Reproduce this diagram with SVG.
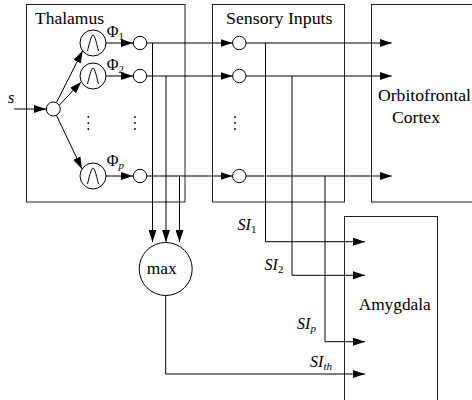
<svg xmlns="http://www.w3.org/2000/svg" width="472" height="400" viewBox="0 0 472 400">
<defs>
<style>
.box{fill:none;stroke:#222;stroke-width:1}
.nd{fill:#fff;stroke:#000;stroke-width:1}
.ar{fill:none;stroke:#000;stroke-width:1;marker-end:url(#ah)}
text{font-family:'Liberation Serif','DejaVu Serif','Times New Roman',serif;font-size:16px;fill:#000}
.i{font-style:italic}
.sub{font-size:11px}
.dot{fill:#000}
</style>
<marker id="ah" markerWidth="12" markerHeight="8" refX="12" refY="4" orient="auto" markerUnits="userSpaceOnUse">
<path d="M0,0 L12,4 L0,8 z" fill="#000"/>
</marker>
<path id="bell" d="M-5.5,8 C-4,2 -1.8,-8 0,-8 C1.8,-8 4,2 5.5,8" fill="none" stroke="#000" stroke-width="1"/>
</defs>
<rect width="472" height="400" fill="#fff"/>

<g id="thalamus">
<rect class="box" x="26.5" y="4.5" width="158.5" height="197.5"/>
<text x="35" y="24" textLength="69" lengthAdjust="spacingAndGlyphs">Thalamus</text>
</g>
<g id="sensory-inputs">
<rect class="box" x="212.5" y="4.5" width="132" height="197.5"/>
<text x="226" y="24" textLength="106.5" lengthAdjust="spacingAndGlyphs">Sensory Inputs</text>
</g>
<g id="orbitofrontal-cortex">
<rect class="box" x="371.5" y="4.5" width="120" height="197.5"/>
<text x="378" y="101" textLength="93" lengthAdjust="spacingAndGlyphs">Orbitofrontal</text>
<text x="392" y="123" textLength="48" lengthAdjust="spacingAndGlyphs">Cortex</text>
</g>
<g id="amygdala">
<rect class="box" x="344.5" y="216.5" width="93" height="200"/>
<text x="358.7" y="309.5" textLength="72" lengthAdjust="spacingAndGlyphs">Amygdala</text>
</g>

<g id="connectors">
<path class="ar" d="M14,109 H46"/>
<path class="ar" d="M56.5,102.5 L82.6,50.8"/>
<path class="ar" d="M59.5,105 L81.3,81.7"/>
<path class="ar" d="M56.5,115.5 L82,169"/>
<path class="ar" d="M106,43 H133"/>
<path class="ar" d="M106,76 H133"/>
<path class="ar" d="M106,176 H133"/>
<path class="ar" d="M147,43 H232.5"/>
<path class="ar" d="M147,76 H232.5"/>
<path class="ar" d="M147,176 H232.5"/>
<path class="ar" d="M152.5,43 V242"/>
<path class="ar" d="M166,76 V242"/>
<path class="ar" d="M179.5,176 V242"/>
<path class="ar" d="M246,43 H391.7"/>
<path class="ar" d="M246,76 H391.7"/>
<path class="ar" d="M246,176 H391.7"/>
<path class="ar" d="M265.5,43 V241.7 H365"/>
<path class="ar" d="M292,76 V275.3 H365"/>
<path class="ar" d="M325,176 V341.7 H365"/>
<path class="ar" d="M165.7,295.5 V374 H365"/>
</g>

<g id="sum">
<circle class="nd" cx="53.3" cy="109" r="7"/>
</g>
<g id="phi1">
<circle class="nd" cx="93" cy="43" r="13"/>
<use href="#bell" x="93" y="43"/>
<text x="106.7" y="37">Φ</text>
<text class="sub" x="118.5" y="40">1</text>
</g>
<g id="phi2">
<circle class="nd" cx="93" cy="76" r="13"/>
<use href="#bell" x="93" y="76"/>
<text x="106.7" y="70">Φ</text>
<text class="sub" x="118.5" y="73">2</text>
</g>
<g id="phip">
<circle class="nd" cx="93" cy="176" r="13"/>
<use href="#bell" x="93" y="176"/>
<text x="106.7" y="166">Φ</text>
<text class="sub i" x="118.5" y="169">p</text>
</g>
<g id="out1"><circle class="nd" cx="140" cy="43" r="6.7"/></g>
<g id="out2"><circle class="nd" cx="140" cy="76" r="6.7"/></g>
<g id="outp"><circle class="nd" cx="140" cy="176" r="6.7"/></g>
<g id="si1"><circle class="nd" cx="239.3" cy="43" r="6.7"/></g>
<g id="si2"><circle class="nd" cx="239.3" cy="76" r="6.7"/></g>
<g id="sip"><circle class="nd" cx="239.3" cy="176" r="6.7"/></g>
<g id="max">
<circle class="nd" cx="165.7" cy="269" r="26.5"/>
<text x="146.7" y="274" textLength="30" lengthAdjust="spacingAndGlyphs">max</text>
</g>

<g id="dots">
<circle class="dot" cx="88.3" cy="117" r="0.9"/>
<circle class="dot" cx="88.3" cy="123" r="0.9"/>
<circle class="dot" cx="88.3" cy="129" r="0.9"/>
<circle class="dot" cx="135" cy="117" r="0.9"/>
<circle class="dot" cx="135" cy="123" r="0.9"/>
<circle class="dot" cx="135" cy="129" r="0.9"/>
<circle class="dot" cx="235" cy="117" r="0.9"/>
<circle class="dot" cx="235" cy="123" r="0.9"/>
<circle class="dot" cx="235" cy="129" r="0.9"/>
</g>

<g id="labels">
<text class="i" x="8" y="103">s</text>
<text class="i" x="237.5" y="229.5">SI</text>
<text class="sub" x="251" y="232.5">1</text>
<text class="i" x="264.5" y="270">SI</text>
<text class="sub" x="278" y="273">2</text>
<text class="i" x="297" y="329">SI</text>
<text class="sub i" x="310.5" y="332">p</text>
<text class="i" x="310" y="367">SI</text>
<text class="sub i" x="323.5" y="370">th</text>
</g>
</svg>
